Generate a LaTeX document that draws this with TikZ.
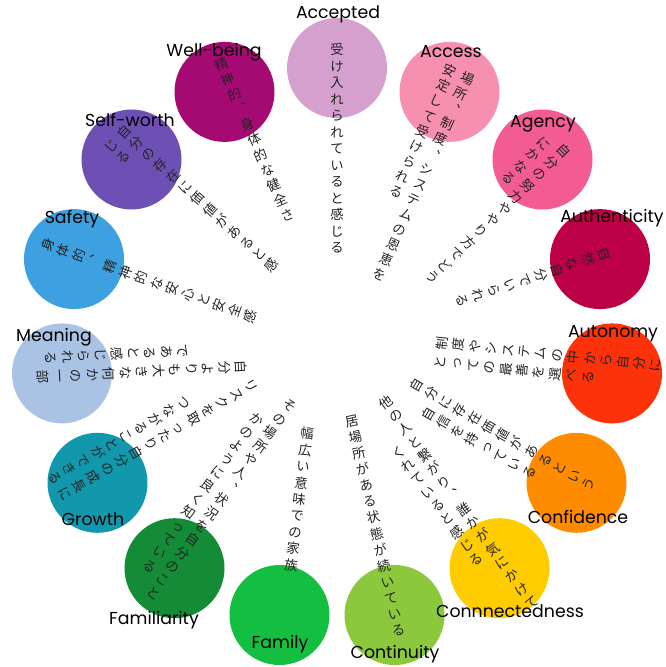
\documentclass[tikz,border=0pt]{standalone}
\usepackage{fontspec}
\usepackage{tikz}
\newfontfamily\jpfont{Noto Sans CJK JP}
\newfontfamily\lblfont{Poppins}

\definecolor{cAccepted}{RGB}{214,160,206}
\definecolor{cAccess}{RGB}{247,143,176}
\definecolor{cAgency}{RGB}{242,92,146}
\definecolor{cAuthenticity}{RGB}{188,0,70}
\definecolor{cAutonomy}{RGB}{252,50,10}
\definecolor{cConfidence}{RGB}{255,140,0}
\definecolor{cConnectedness}{RGB}{255,204,0}
\definecolor{cContinuity}{RGB}{140,200,60}
\definecolor{cFamily}{RGB}{20,190,65}
\definecolor{cFamiliarity}{RGB}{20,140,55}
\definecolor{cGrowth}{RGB}{18,152,172}
\definecolor{cMeaning}{RGB}{170,195,228}
\definecolor{cSafety}{RGB}{60,160,225}
\definecolor{cSelfworth}{RGB}{110,80,180}
\definecolor{cWellbeing}{RGB}{165,10,115}
\definecolor{jpgray}{RGB}{35,35,35}

% one vertical column of Japanese text, optional drop before it
\ExplSyntaxOn
\NewDocumentCommand\tatecol{O{0pt}m}{%
  \vtop{\vskip#1
    \baselineskip=12.4pt \lineskiplimit=-\maxdimen
    \tl_map_inline:nn {#2}{\hbox to 10pt{\vrule height 8.8pt depth 1.2pt width 0pt\hss##1\hss}}}}
\ExplSyntaxOff
\newcommand\tateone[1]{\hbox{\tatecol{#1}}}
\newcommand\tatetwo[3]{\hbox{\tatecol[#3]{#2}\hskip4.3pt\tatecol{#1}}}

\begin{document}
\begin{tikzpicture}[x=0.75pt, y=-0.75pt,
  bubble/.style={circle, minimum size=75pt, inner sep=0pt},
  jp/.style={font=\jpfont\fontsize{10}{12}\selectfont, text=jpgray, inner sep=0pt, anchor=north},
  lbl/.style={font=\lblfont\fontsize{13}{15}\selectfont, text=black, inner sep=0pt, anchor=base}]
\useasboundingbox (0,0) rectangle (666,667);

% ring of circles, clockwise from the top
\node [bubble, fill=cAccepted] (Accepted) at (337,68) {};
\node [bubble, fill=cAccess] (Access) at (449.5,91.9) {};
\node [bubble, fill=cAgency] (Agency) at (542.5,159.5) {};
\node [bubble, fill=cAuthenticity] (Authenticity) at (600,259.1) {};
\node [bubble, fill=cAutonomy] (Autonomy) at (612,373.4) {};
\node [bubble, fill=cConfidence] (Confidence) at (576.5,482.8) {};
\node [bubble, fill=cConnectedness] (Connectedness) at (499.5,568.2) {};
\node [bubble, fill=cContinuity] (Continuity) at (394.5,615) {};
\node [bubble, fill=cFamily] (Family) at (279.5,615) {};
\node [bubble, fill=cFamiliarity] (Familiarity) at (174.5,568.2) {};
\node [bubble, fill=cGrowth] (Growth) at (97.5,482.8) {};
\node [bubble, fill=cMeaning] (Meaning) at (62,373.4) {};
\node [bubble, fill=cSafety] (Safety) at (74,259.1) {};
\node [bubble, fill=cSelfworth] (Selfworth) at (131.5,159.5) {};
\node [bubble, fill=cWellbeing] (Wellbeing) at (224.5,91.9) {};

% english names
\node [lbl] (AcceptedLbl) at (338,19) {Accepted};
\node [lbl] (AccessLbl) at (451,58) {Access};
\node [lbl] (AgencyLbl) at (543,127) {Agency};
\node [lbl] (AuthenticityLbl) at (612,222) {Authenticity};
\node [lbl] (AutonomyLbl) at (613,337) {Autonomy};
\node [lbl] (ConfidenceLbl) at (578,523) {Confidence};
\node [lbl] (ConnectednessLbl) at (510,617) {Connnectedness};
\node [lbl] (ContinuityLbl) at (395,658) {Continuity};
\node [lbl] (FamilyLbl) at (280,648) {Family};
\node [lbl] (FamiliarityLbl) at (154,624) {Familiarity};
\node [lbl] (GrowthLbl) at (93,525) {Growth};
\node [lbl] (MeaningLbl) at (54,341) {Meaning};
\node [lbl] (SafetyLbl) at (72,223) {Safety};
\node [lbl] (SelfworthLbl) at (130,126) {Self-worth};
\node [lbl] (WellbeingLbl) at (214,56) {Well-being};

% japanese descriptions, set vertically along the spokes
\node [jp, rotate=0] (AcceptedTxt) at (337,42.5) {\tateone{受け入れられていると感じる}};
\node [jp, rotate=-24] (AccessTxt) at (461.5,68.4) {\tatetwo{場所︑制度︑システムの恩恵を}{安定して受けられる}{0pt}};
\node [jp, rotate=-46] (AgencyTxt) at (562.2,139.2) {\tatetwo{自分の努力ややり方でどう}{にかなる}{6.7pt}};
\node [jp, rotate=-72] (AuthenticityTxt) at (610.9,252.4) {\tateone{自然な自分でいられる}};
\node [jp, rotate=84] (AutonomyTxt) at (434,351.8) {\tatetwo{制度やシステムの中から自分に}{とっての最善を選べる}{0pt}};
\node [jp, rotate=60] (ConfidenceTxt) at (405.9,390.2) {\tatetwo{自分に存在価値があるという}{自信を持っている}{18.7pt}};
\node [jp, rotate=36] (ConnectednessTxt) at (374,402) {\tatetwo{他の人と繋がり︑誰かが気にかけて}{くれていると感じる}{36pt}};
\node [jp, rotate=12.5] (ContinuityTxt) at (350.2,413.9) {\tateone{居場所がある状態が続いている}};
\node [jp, rotate=-7] (FamilyTxt) at (308,426.8) {\tateone{幅広い意味での家族}};
\node [jp, rotate=-36] (FamiliarityTxt) at (286,394.6) {\tatetwo{その場所や人︑状況を自分のこと}{かのように良く知っている}{22.5pt}};
\node [jp, rotate=-60] (GrowthTxt) at (252.3,374.4) {\tatetwo{リスクを取ったり自分の成長に}{つながることができる}{50pt}};
\node [jp, rotate=-87] (MeaningTxt) at (247.8,356.9) {\tatetwo{自分よりも大きな何かの一部}{であると感じられる}{43pt}};
\node [jp, rotate=70.5] (SafetyTxt) at (41.2,242.2) {\tateone{身体的︑精神的な安心と安全感}};
\node [jp, rotate=48] (SelfworthTxt) at (112.3,134.7) {\tatetwo{自分の存在に価値があると感}{じる}{0pt}};
\node [jp, rotate=23.4] (WellbeingTxt) at (218.7,57.4) {\tateone{精神的︑身体的な健全さ}};
\end{tikzpicture}
\end{document}
